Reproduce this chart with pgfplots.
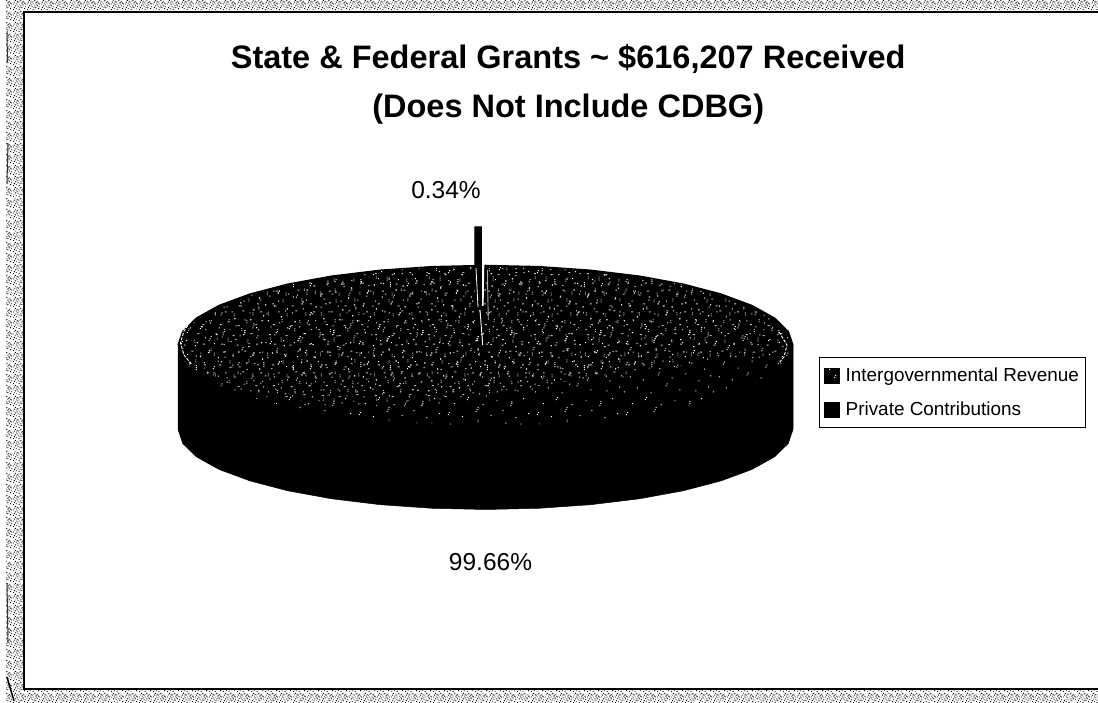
\documentclass[border=0pt]{standalone}
\usepackage{fontspec}
\setmainfont{Liberation Sans}
\usepackage{pgfplots}
\pgfplotsset{compat=1.18}
\usetikzlibrary{patterns}

% Irregular one-unit specks on the pie face (sparse and dense tiles) and on the page border
\newcommand{\specks}[1]{\foreach \x/\y in {#1}{\pgfpathrectangle{\pgfpoint{\x pt}{\y pt}}{\pgfpoint{1pt}{1pt}}}\pgfusepath{fill}}
\pgfdeclarepatternformonly{pieSparse}{\pgfpointorigin}{\pgfpoint{89pt}{71pt}}{\pgfpoint{89pt}{71pt}}{%
  \specks{3/4,4/6,17/2,31/7,32/9,33/11,46/3,58/8,71/1,84/5,9/15,22/19,23/21,38/14,52/18,66/13,67/15,67/17,79/20,
  1/27,14/31,28/26,43/33,44/35,57/29,73/28,86/32,7/42,20/39,35/44,36/46,49/41,63/45,76/38,88/43,
  11/55,12/57,26/51,40/58,54/52,55/54,69/56,82/50,5/66,18/63,33/69,47/62,61/67,75/64,76/66,85/60}}
\pgfdeclarepatternformonly{pieDense}{\pgfpointorigin}{\pgfpoint{97pt}{83pt}}{\pgfpoint{97pt}{83pt}}{%
  \specks{2/1,2/3,2/5,10/8,19/2,20/4,27/9,36/3,44/6,45/8,53/1,61/7,70/4,70/6,70/8,78/2,88/9,93/4,
  6/14,14/18,15/20,24/13,31/19,39/15,48/21,49/23,57/14,66/18,74/13,83/20,84/22,91/16,
  3/28,11/33,20/27,28/34,29/36,29/38,37/29,46/35,55/27,63/33,64/35,72/28,81/36,90/30,
  8/44,16/48,17/50,25/43,34/49,42/45,51/51,59/43,60/45,60/47,68/50,77/44,86/48,94/43,
  1/58,12/62,21/57,30/64,38/59,47/65,56/58,65/62,65/64,73/57,82/65,92/60,
  5/74,6/76,15/71,24/78,33/72,41/77,50/70,58/76,59/78,67/71,76/75,85/70,95/77,44/81,13/81,80/80}}
\pgfdeclarepatternformonly{pieGrain}{\pgfpointorigin}{\pgfpoint{53pt}{61pt}}{\pgfpoint{53pt}{61pt}}{%
  \specks{4/2,5/2,12/5,12/7,21/1,22/1,30/6,30/8,39/3,40/3,47/7,8/12,9/12,17/15,17/17,26/11,27/11,35/14,35/16,44/12,45/12,51/16,
  3/22,3/24,13/25,14/25,22/21,22/23,31/26,32/26,41/22,41/24,49/25,50/25,7/33,8/33,18/35,18/37,27/31,28/31,37/36,37/38,46/33,47/33,
  2/43,2/45,11/46,12/46,21/42,21/44,33/47,34/47,42/43,42/45,51/46,9/54,10/54,16/57,16/59,25/53,26/53,36/56,36/58,45/54,46/54,5/59}}
\pgfdeclarepatternformonly{pageDither}{\pgfpointorigin}{\pgfpoint{14pt}{11pt}}{\pgfpoint{14pt}{11pt}}{%
  \specks{0/0,3/1,6/0,9/2,12/1,1/2,5/3,7/2,11/4,13/3,2/4,4/5,8/4,10/5,0/6,3/7,6/6,9/7,12/7,1/8,5/8,7/9,11/9,13/6,2/10,4/9,8/10,10/8}}
\pgfdeclarepatternformonly{pageBreakup}{\pgfpointorigin}{\pgfpoint{29pt}{23pt}}{\pgfpoint{29pt}{23pt}}{%
  \specks{1/1,2/1,3/2,8/3,9/3,15/1,16/2,22/4,23/4,27/2,5/7,6/8,12/6,13/6,19/8,20/9,25/7,26/7,2/12,3/12,9/13,10/14,
  16/11,17/11,23/13,28/12,6/17,7/17,13/16,14/17,20/18,21/18,26/16,1/20,10/21,11/21,17/22,24/20,25/21}}

\pgfplotstableread{
share  name
99.66  Intergovernmental
0.34   Private
}\sharetable

\begin{document}
\begin{tikzpicture}
\path[use as bounding box] (0,0) rectangle (1098pt,703pt);
\begin{axis}[
  scale only axis, width=1098pt, height=703pt,
  xmin=0, xmax=1098, ymin=0, ymax=703,
  hide axis,
  title={State \& Federal Grants \textasciitilde\ \$616,207 Received\\(Does Not Include CDBG)},
  title style={at={(axis description cs:0.5175,0.933)}, anchor=north, align=center,
    font=\fontsize{32.5}{49}\selectfont\bfseries},
  legend style={at={(axis description cs:0.7459,0.4922)}, anchor=north west,
    draw=black, line width=0.8pt, font=\fontsize{18.9}{22}\selectfont,
    inner xsep=4.5pt, inner ysep=8.5pt, row sep=15pt,
    legend cell align=left,
    /tikz/every even column/.append style={column sep=7pt},
    /tikz/every odd column/.append style={column sep=4pt}},
  legend image code/.code={\path[#1] (0pt,-7.5pt) rectangle (15pt,7.5pt);},
]
% Page background: dithered band around the white chart area
\addplot[draw=none, pattern=pageDither, pattern color=black, forget plot]
  coordinates {(6,0) (1098,0) (1098,703) (6,703)} -- cycle;
\addplot[draw=none, pattern=pageBreakup, pattern color=white, forget plot]
  coordinates {(6,0) (1098,0) (1098,703) (6,703)} -- cycle;
\addplot[draw=none, fill=white, forget plot]
  coordinates {(24,14) (1098,14) (1098,691) (24,691)} -- cycle;
\addplot[black, line width=2pt, forget plot]
  coordinates {(1098,691) (24,691) (24,14) (1098,14)};
\addplot[black, line width=1.5pt, forget plot] coordinates {(7,26) (14,2)};
\addplot[black!80, line width=1pt, forget plot] coordinates {(7,672) (7.5,640)};
\addplot[black!80, line width=1pt, forget plot] coordinates {(8,560) (7,520)};
\addplot[black!80, line width=1pt, forget plot] coordinates {(7,120) (8,60)};

% Outer wall of the pie
\addplot[fill=black, draw=black, line width=0.5pt, forget plot] coordinates {
  (178,357.5) (178,273.5) (182.7,259.6) (196.5,246.1) (219.2,233.5) (250,222.1)
  (287.8,212.2) (331.7,204.2) (380.3,198.3) (432.1,194.7) (485.5,193.5)
  (538.9,194.7) (590.7,198.3) (639.3,204.2) (683.2,212.2) (721,222.1)
  (751.8,233.5) (774.5,246.1) (788.3,259.6) (793,273.5) (793,357.5)
} -- cycle;

% Top face of the large slice
\addplot[fill=black, draw=none, postaction={pattern=pieSparse, pattern color=white}, forget plot] coordinates {
  (793,357.5) (788.3,371.4) (774.5,384.9) (751.8,397.5) (721,408.9) (683.2,418.8)
  (639.3,426.8) (590.7,432.7) (538.9,436.3) (485.5,437.5) (432.1,436.3) (380.3,432.7)
  (331.7,426.8) (287.8,418.8) (250,408.9) (219.2,397.5) (196.5,384.9) (182.7,371.4)
  (178,357.5) (182.7,343.6) (196.5,330.1) (219.2,317.5) (250,306.1) (287.8,296.2)
  (331.7,288.2) (380.3,282.3) (432.1,278.7) (485.5,277.5) (538.9,278.7) (590.7,282.3)
  (639.3,288.2) (683.2,296.2) (721,306.1) (751.8,317.5) (774.5,330.1) (788.3,343.6)
} -- cycle;
% Brighter speckle over the upper left of the face
\addplot[draw=none, pattern=pieDense, pattern color=white, forget plot] coordinates {
  (182.7,371.4) (196.5,384.9) (219.2,397.5) (250,408.9) (287.8,418.8) (331.7,426.8)
  (380.3,432.7) (432.1,436.3) (485.5,437.5) (538.9,436.3) (590.7,432.7) (639.3,426.8)
  (683.2,418.8) (721,408.9) (751.8,397.5) (774.5,384.9) (788.3,371.4) (786,345)
  (700,342) (640,328) (420,296) (300,298) (219.2,317.5) (196.5,330.1) (182.7,343.6)
} -- cycle;
\addplot[draw=none, pattern=pieGrain, pattern color=black!25!white, forget plot] coordinates {
  (184,372) (197,385) (219.2,396) (250,407) (287.8,417) (331.7,425)
  (380.3,431) (432.1,435) (485.5,436) (538.9,435) (590.7,431) (639.3,425)
  (683.2,417) (721,407) (751.8,396) (774,383) (785,368) (783,347)
  (700,345) (640,332) (420,300) (300,302) (219.2,320) (197,332) (184,345)
} -- cycle;
\addplot[draw=none, pattern=pieSparse, pattern color=white, forget plot] coordinates {
  (230,410) (380,425) (560,425) (730,395) (700,355) (560,320) (400,310) (240,335)
} -- cycle;
% Dark rim of the top face
\addplot[black, line width=1.5pt, forget plot] coordinates {
  (178,357.5) (182.7,371.4) (196.5,384.9) (219.2,397.5) (250,408.9) (287.8,418.8)
  (331.7,426.8) (380.3,432.7) (432.1,436.3) (485.5,437.5) (538.9,436.3) (590.7,432.7)
  (639.3,426.8) (683.2,418.8) (721,408.9) (751.8,397.5) (774.5,384.9) (788.3,371.4) (793,357.5)
};
% Light glints along both ends of the face
\addplot[white, line width=0.9pt, dash pattern=on 3pt off 1.5pt, forget plot]
  coordinates {(193,385) (184,372) (180.5,360) (184,348) (192,338)};
\addplot[white, line width=0.9pt, dash pattern=on 3pt off 1.5pt, forget plot]
  coordinates {(779,371) (787,358) (784,346) (778,339)};

% Exploded 0.34% slice: its 6.6-unit width is 307.5*sin(0.34% of 360 degrees)
\addplot[fill=black, draw=black, line width=1pt, forget plot] coordinates {
  (474.8,476) (481.4,476) (481.4,397) (478,397) (474.8,437)
} -- cycle;
\addplot[fill=white, draw=none, forget plot] coordinates {
  (482.2,439) (484.3,439) (483.6,397) (482.2,397)
} -- cycle;
\addplot[white, line width=0.9pt, forget plot] coordinates {(480,393) (482.7,358)};
\addplot[white, line width=0.8pt, forget plot] coordinates {(476,435) (478,396)};
\addplot[black!35, line width=0.9pt, forget plot] coordinates {(487.3,433) (488.3,383)};

% Legend
\addlegendimage{fill=black, postaction={pattern=pieDense, pattern color=white}}
\addlegendentry{Intergovernmental Revenue}
\addlegendimage{fill=black}
\addlegendentry{Private Contributions}

% Percentage labels
\node[font=\fontsize{24.5}{28}\selectfont] at (axis cs:446,513) {0.34\%};
\node[font=\fontsize{24.5}{28}\selectfont] at (axis cs:490.5,141) {99.66\%};
\end{axis}
\end{tikzpicture}
\end{document}
